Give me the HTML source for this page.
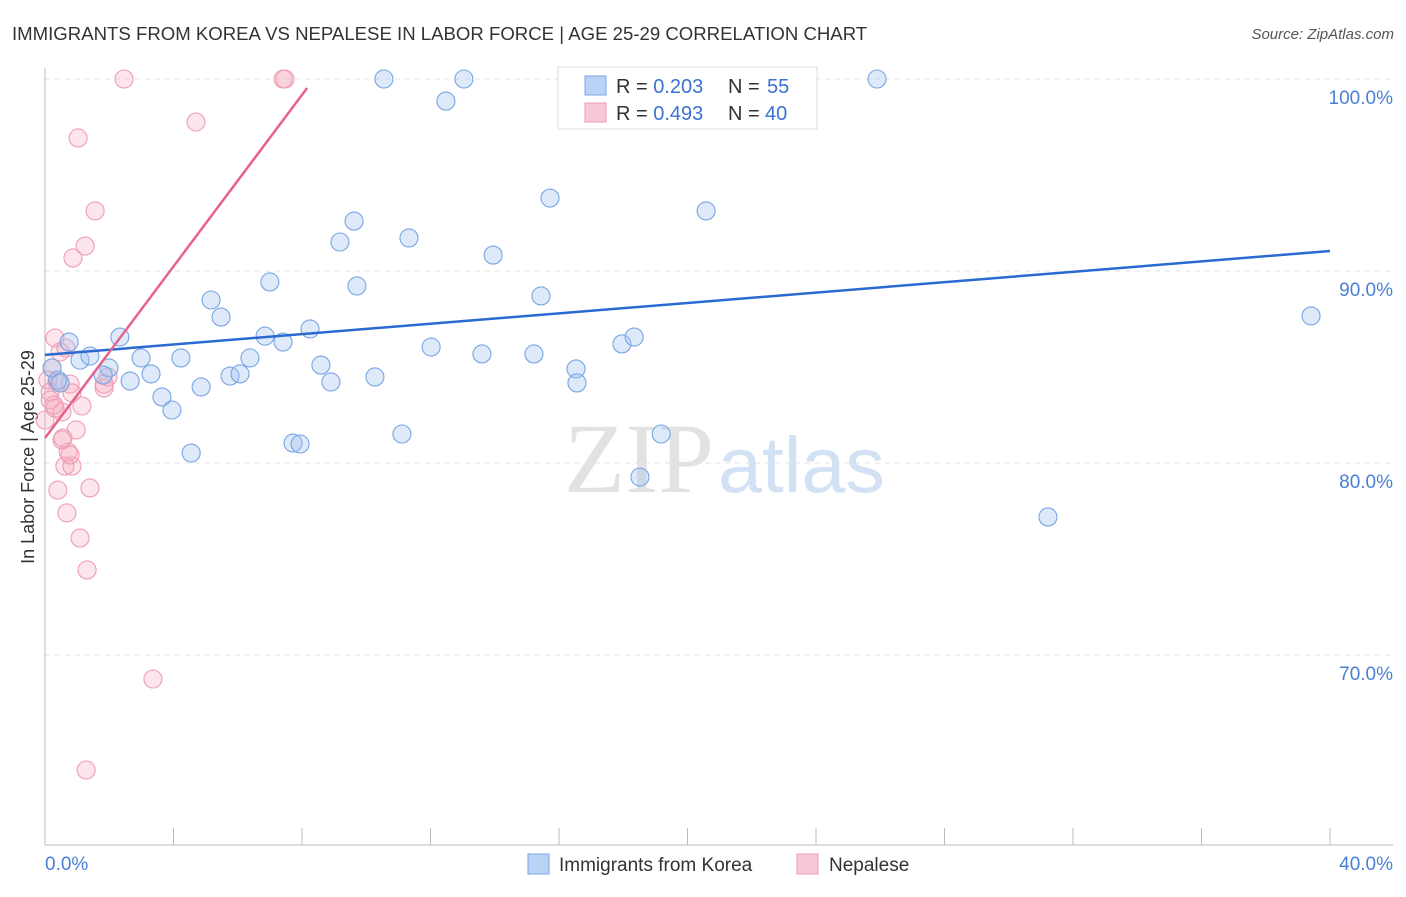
<!DOCTYPE html>
<html><head><meta charset="utf-8"><style>
body{margin:0;background:#fff;font-family:"Liberation Sans",sans-serif}
</style></head><body>
<svg id="c" width="1406" height="892" xmlns="http://www.w3.org/2000/svg">
<text x="12" y="40" font-size="18.6" fill="#333">IMMIGRANTS FROM KOREA VS NEPALESE IN LABOR FORCE | AGE 25-29 CORRELATION CHART</text>
<text x="1394" y="39" font-size="15" fill="#555" font-style="italic" text-anchor="end">Source: ZipAtlas.com</text>
<text transform="translate(34,457) rotate(-90)" font-size="18" fill="#333" text-anchor="middle">In Labor Force | Age 25-29</text>
<text x="714" y="492" font-size="100" fill="#e2e2e2" font-family="Liberation Serif" text-anchor="end">ZIP</text>
<text x="718" y="492" font-size="79" fill="#d3e1f4">atlas</text>
<g id="grid"></g><g id="axes"></g><g id="pts"></g><g id="trends"></g>
<g>
<rect x="558" y="67" width="259" height="62" fill="#fff" stroke="#ddd"/>
<rect x="585" y="76" width="21" height="19" fill="#b9d2f5" stroke="#7aa6e6"/>
<rect x="585" y="103" width="21" height="19" fill="#f9c8d6" stroke="#eb9ab2"/>
<text x="616" y="93" font-size="20" fill="#333">R = <tspan fill="#3a72d4">0.203</tspan><tspan x="728">N = </tspan><tspan fill="#3a72d4" x="767">55</tspan></text>
<text x="616" y="120" font-size="20" fill="#333">R = <tspan fill="#3a72d4">0.493</tspan><tspan x="728">N = </tspan><tspan fill="#3a72d4" x="765">40</tspan></text>
</g>
<g>
<rect x="528" y="854" width="21" height="20" fill="#b9d2f5" stroke="#7aa6e6"/>
<text x="559" y="871" font-size="19" fill="#333">Immigrants from Korea</text>
<rect x="797" y="854" width="21" height="20" fill="#f9c8d6" stroke="#eb9ab2"/>
<text x="829" y="871" font-size="19" fill="#333">Nepalese</text>
</g>
</svg>
<script>
const yTicks=[100,90,80,70];
const yTickLabels=["100.0%","90.0%","80.0%","70.0%"];
const xTickLabels=["0.0%","40.0%"];
const koreaX=[0.75,1.09,1.40,0.40,0.22,2.33,1.99,1.81,2.65,2.99,3.30,3.64,3.95,4.23,4.55,4.86,5.17,5.48,5.76,6.07,6.38,6.85,7.00,7.41,7.72,7.94,8.25,8.59,8.90,9.18,9.62,9.71,10.27,10.55,11.11,11.33,12.02,12.48,13.04,13.60,13.95,15.22,15.44,15.72,16.53,16.56,16.90,17.96,18.34,19.18,18.52,20.58,25.90,31.22,39.41,0.47];
const koreaY=[86.30,85.36,85.57,84.32,84.95,86.56,84.95,84.58,84.27,85.47,84.64,83.44,82.76,85.47,80.52,83.96,88.49,87.60,84.53,84.64,85.47,86.61,89.43,86.30,81.04,80.99,86.98,85.10,84.22,91.51,92.60,89.22,84.48,100,81.51,91.72,86.04,98.85,100,85.68,90.83,85.68,88.70,93.80,84.90,84.17,100,86.20,86.56,81.51,79.27,93.13,100,77.19,87.66,84.17];
const nepalX=[0.31,0.47,0.65,0.22,0.37,0.16,0.31,0.53,0.78,0.84,1.15,0.53,0.97,0.72,0.62,0.84,0.40,1.40,0.68,1.09,1.31,3.36,1.28,1.03,1.56,1.25,0.87,1.84,1.96,2.46,4.70,7.41,7.47,0.09,0.16,0.56,0.78,0.28,1.84,0];
const nepalY=[86.51,85.78,85.99,84.95,84.22,83.70,82.86,82.66,84.11,83.65,82.97,81.20,81.72,80.57,79.84,79.84,78.59,78.70,77.40,76.09,74.43,68.75,64.01,96.93,93.13,91.30,90.68,83.91,84.48,100,97.76,100,100,84.32,83.28,81.30,80.42,83.02,84.11,82.24];
const koreaTrend=[0,85.63,40,91.04];
const nepalTrend=[0,81.30,8.16,99.53];
const X=v=>45+v/40*1285, Y=v=>79+(100-v)*19.2;
const NS='http://www.w3.org/2000/svg';
function mk(tag,parent,attrs){const e=document.createElementNS(NS,tag);for(const k in attrs)e.setAttribute(k,attrs[k]);document.getElementById(parent).appendChild(e);return e;}
yTicks.forEach((t,i)=>{
 const l=mk('line','grid',{x1:45,x2:1393,y1:Y(t),y2:Y(t),stroke:'#e3e3e3','stroke-dasharray':'5,5'});
 
 
 const tx=mk('text','grid',{x:1393,y:Y(t)+25,'font-size':19,fill:'#4a7fd6','text-anchor':'end'});
 tx.textContent=yTickLabels[i];
 
 
});
let a=mk('line','axes',{x1:45,x2:45,y1:68,y2:845,stroke:'#bbb'});


a=mk('line','axes',{x1:45,x2:1393,y1:845,y2:845,stroke:'#bbb'});


for(let i=0;i<=10;i++){
 const t=mk('line','axes',{x1:X(i*4),x2:X(i*4),y1:828,y2:845,stroke:'#bbb'});
 
 
}
[[0,'start',45],[40,'end',1393]].forEach((d,i)=>{
 const tx=mk('text','axes',{x:d[2],y:870,'font-size':19,fill:'#4a7fd6','text-anchor':d[1]});
 tx.textContent=xTickLabels[i];
 
 
});
nepalX.forEach((v,i)=>{
 const c=mk('circle','pts',{cx:X(v),cy:Y(nepalY[i]),r:9,fill:'rgba(245,168,190,0.3)',stroke:'#ee9db5','stroke-width':1.1});
 
 
});
koreaX.forEach((v,i)=>{
 const c=mk('circle','pts',{cx:X(v),cy:Y(koreaY[i]),r:9,fill:'rgba(160,194,240,0.35)',stroke:'#78a5e4','stroke-width':1.1});
 
 
});
let tl=mk('line','trends',{x1:X(koreaTrend[0]),y1:Y(koreaTrend[1]),x2:X(koreaTrend[2]),y2:Y(koreaTrend[3]),stroke:'#2a6ad0','stroke-width':2.5});


tl=mk('line','trends',{x1:X(nepalTrend[0]),y1:Y(nepalTrend[1]),x2:X(nepalTrend[2]),y2:Y(nepalTrend[3]),stroke:'#e8628c','stroke-width':2.5});


</script>
</body></html>
